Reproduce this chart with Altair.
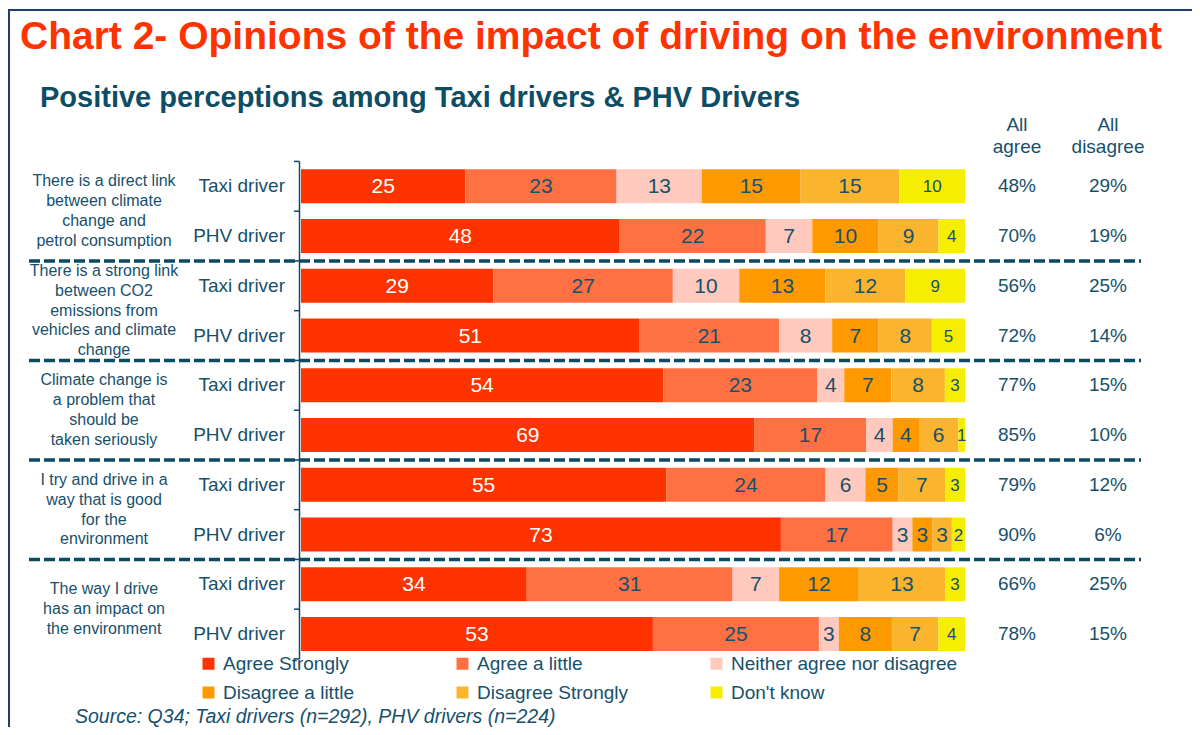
import altair as alt
import pandas as pd

# ---------------- data ----------------
statements = [
    ["There is a direct link", "between climate", "change and", "petrol consumption"],
    ["There is a strong link", "between CO2", "emissions from", "vehicles and climate", "change"],
    ["Climate change is", "a problem that", "should be", "taken seriously"],
    ["I try and drive in a", "way that is good", "for the", "environment"],
    ["The way I drive", "has an impact on", "the environment"],
]
drivers = ["Taxi driver", "PHV driver"]
categories = ["Agree Strongly", "Agree a little", "Neither agree nor disagree",
              "Disagree a little", "Disagree Strongly", "Don't know"]
colors = ["#FF3300", "#FF7043", "#FFC9BD", "#FF9900", "#FBB42E", "#F5EE00"]

taxi_values = [[25, 23, 13, 15, 15, 10],
               [29, 27, 10, 13, 12, 9],
               [54, 23, 4, 7, 8, 3],
               [55, 24, 6, 5, 7, 3],
               [34, 31, 7, 12, 13, 3]]
phv_values = [[48, 22, 7, 10, 9, 4],
              [51, 21, 8, 7, 8, 5],
              [69, 17, 4, 4, 6, 1],
              [73, 17, 3, 3, 3, 2],
              [53, 25, 3, 8, 7, 4]]
taxi_all_agree = [48, 56, 77, 79, 66]
taxi_all_disagree = [29, 25, 15, 12, 25]
phv_all_agree = [70, 72, 85, 90, 78]
phv_all_disagree = [19, 14, 10, 6, 15]

title_text = "Chart 2- Opinions of the impact of driving on the environment"
subtitle_text = "Positive perceptions among Taxi drivers & PHV Drivers"
source_text = "Source: Q34; Taxi drivers (n=292), PHV drivers (n=224)"
col_headers = ["All\nagree", "All\ndisagree"]

# ---------------- layout ----------------
W, H = 1184, 719
M = 8
BAR_X0, BAR_X1 = 301, 965
ROW0_Y, ROW_STEP = 186.3, 49.75
GROUP_LH = 19.8
TEAL = "#17506B"
DARK = "#0D4A63"
FONT = "Liberation Sans"


def px(x):
    return x - M


def py(y):
    return y - M


ppu = (BAR_X1 - BAR_X0) / 100.0
xs = alt.Scale(domain=[(M - BAR_X0) / ppu, (M + W - BAR_X0) / ppu], nice=False, zero=False, padding=0)
ys = alt.Scale(domain=[(M - ROW0_Y) / ROW_STEP, (M + H - ROW0_Y) / ROW_STEP],
               nice=False, zero=False, reverse=True, padding=0)

# ---------------- tables ----------------
seg_rows, row_rows = [], []
for g in range(len(statements)):
    for d, (vals, ag, dis) in enumerate([
        (taxi_values[g], taxi_all_agree[g], taxi_all_disagree[g]),
        (phv_values[g], phv_all_agree[g], phv_all_disagree[g]),
    ]):
        r = 2 * g + d
        total = float(sum(vals))
        cum = 0.0
        for k, (cat, v) in enumerate(zip(categories, vals)):
            x0 = cum / total * 100
            cum += v
            x1 = cum / total * 100
            seg_rows.append(dict(row=r, cat=cat, k=k, value=v, x0=x0, x1=x1, mid=(x0 + x1) / 2))
        row_rows.append(dict(row=r, driver=drivers[d], agree=f"{ag}%", disagree=f"{dis}%"))
seg = pd.DataFrame(seg_rows)
rows = pd.DataFrame(row_rows)

line_rows = []
for g, lines in enumerate(statements):
    n = len(lines)
    for i, ln in enumerate(lines):
        line_rows.append(dict(y=2 * g + 0.5 + (i - (n - 1) / 2) * GROUP_LH / ROW_STEP, t=ln))
glines = pd.DataFrame(line_rows)
seps = pd.DataFrame(dict(r=[2 * g + 1.5 for g in range(len(statements) - 1)]))
ticks = pd.DataFrame(dict(b=[i - 0.5 for i in range(len(rows) + 1)]))

# ---------------- layers ----------------
bars = alt.Chart(seg).mark_bar(orient="horizontal", size=34, strokeWidth=0).encode(
    x=alt.X("x0:Q", scale=xs, axis=None),
    x2="x1:Q",
    y=alt.Y("row:Q", scale=ys, axis=None),
    color=alt.Color(
        "cat:N",
        scale=alt.Scale(domain=categories, range=colors),
        legend=alt.Legend(
            title=None, orient="none", legendX=px(199), legendY=py(654),
            direction="horizontal", columns=3, gridAlign="all",
            symbolType="square", symbolSize=144,
            symbolStrokeWidth=0, symbolOpacity=1, labelFont=FONT, labelFontSize=19,
            labelColor=TEAL, labelOffset=5, columnPadding=3, rowPadding=9,
            padding=0, labelLimit=400,
        ),
    ),
    order=alt.Order("k:Q"),
)

bar_labels = alt.Chart(seg).mark_text(font=FONT, align="center", baseline="middle", dy=1).encode(
    x=alt.X("mid:Q", scale=xs, axis=None),
    y=alt.Y("row:Q", scale=ys, axis=None),
    text=alt.Text("value:Q"),
    color=alt.when(alt.datum.cat == "Agree Strongly").then(alt.value("white")).otherwise(alt.value(TEAL)),
    size=alt.when(alt.datum.cat == "Don't know").then(alt.value(17)).otherwise(alt.value(21)),
)

driver_labels = alt.Chart(rows).mark_text(font=FONT, fontSize=19, align="right", baseline="middle",
                                          color=TEAL).encode(
    x=alt.value(px(285)), y=alt.Y("row:Q", scale=ys), text="driver:N")

agree_col = alt.Chart(rows).mark_text(font=FONT, fontSize=19, align="center", baseline="middle",
                                      color=TEAL).encode(
    x=alt.value(px(1017)), y=alt.Y("row:Q", scale=ys), text="agree:N")

disagree_col = alt.Chart(rows).mark_text(font=FONT, fontSize=19, align="center", baseline="middle",
                                         color=TEAL).encode(
    x=alt.value(px(1108)), y=alt.Y("row:Q", scale=ys), text="disagree:N")

group_labels = alt.Chart(glines).mark_text(font=FONT, fontSize=16, align="center", baseline="middle",
                                           color=TEAL).encode(
    x=alt.value(px(104)), y=alt.Y("y:Q", scale=ys), text="t:N")

headers = alt.Chart(pd.DataFrame(dict(t=col_headers, xp=[px(1017), px(1108)]))).mark_text(
    font=FONT, fontSize=19, align="center", baseline="middle", lineBreak="\n", lineHeight=22,
    color=TEAL).encode(x=alt.X("xp:Q", scale=None), y=alt.value(py(125)), text="t:N")

title = alt.Chart(pd.DataFrame(dict(t=[title_text]))).mark_text(
    font=FONT, fontSize=39, fontWeight="bold", align="left", baseline="alphabetic",
    color="#FF3300").encode(x=alt.value(px(20)), y=alt.value(py(49)), text="t:N")

subtitle = alt.Chart(pd.DataFrame(dict(t=[subtitle_text]))).mark_text(
    font=FONT, fontSize=29, fontWeight="bold", align="left", baseline="alphabetic",
    color="#0E4D64").encode(x=alt.value(px(40)), y=alt.value(py(107)), text="t:N")

source = alt.Chart(pd.DataFrame(dict(t=[source_text]))).mark_text(
    font=FONT, fontSize=19.5, fontStyle="italic", align="left", baseline="alphabetic",
    color=TEAL).encode(x=alt.value(px(75)), y=alt.value(py(723)), text="t:N")

separators = alt.Chart(seps).mark_rule(strokeDash=[11, 4], strokeWidth=3.5, color=DARK).encode(
    x=alt.value(px(29)), x2=alt.value(px(1141)), y=alt.Y("r:Q", scale=ys))

axis_line = alt.Chart(pd.DataFrame(dict(a=[ticks.b.min()], b=[ticks.b.max()]))).mark_rule(
    strokeWidth=1.5, color=DARK).encode(
    x=alt.value(px(299.5)), y=alt.Y("a:Q", scale=ys), y2="b:Q")

axis_ticks = alt.Chart(ticks).mark_rule(strokeWidth=1.5, color=DARK).encode(
    x=alt.value(px(294)), x2=alt.value(px(299.5)), y=alt.Y("b:Q", scale=ys))

frame_left = alt.Chart(pd.DataFrame(dict(z=[0]))).mark_rule(strokeWidth=2, color="#1F3F6B").encode(
    x=alt.value(1), y=alt.value(2), y2=alt.value(H))
frame_top = alt.Chart(pd.DataFrame(dict(z=[0]))).mark_rule(strokeWidth=2, color="#1F3F6B").encode(
    x=alt.value(0), x2=alt.value(W), y=alt.value(2))

chart = alt.layer(
    bars, bar_labels, separators, axis_line, axis_ticks, driver_labels, agree_col, disagree_col,
    group_labels, headers, title, subtitle, source, frame_left, frame_top,
).properties(
    width=W, height=H, padding=0, autosize=alt.AutoSizeParams(type="none"),
).configure_view(stroke=None)

chart.save("out.html", embed_options={"renderer": "svg", "actions": False})
